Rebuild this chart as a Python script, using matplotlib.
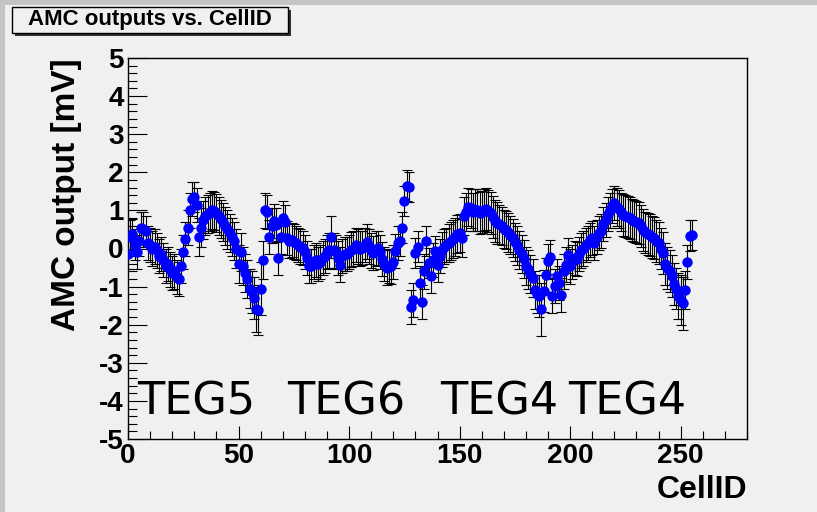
import matplotlib
matplotlib.use("Agg")
import matplotlib.pyplot as plt
from matplotlib.patches import Rectangle
from matplotlib.ticker import MultipleLocator
import numpy as np

# AMC output per cell (mV)
cell_id = list(range(256))
amc_mv = [
    -0.15, 0.30, 0.37, 0.10, -0.10, 0.20, 0.55, 0.50, 0.45, 0.15,
    0.10, 0.00, 0.05, -0.05, -0.20, -0.15, -0.30, -0.45, -0.40, -0.55,
    -0.65, -0.60, -0.75, -0.80, -0.45, -0.10, 0.25, 0.55, 1.00, 1.30,
    1.35, 1.15, 0.30, 0.55, 0.75, 0.85, 0.90, 0.95, 1.00, 0.98,
    0.92, 0.85, 0.78, 0.70, 0.60, 0.50, 0.40, 0.30, 0.20, 0.00,
    -0.40, -0.10, -0.45, -0.65, -0.80, -1.05, -1.15, -1.30, -1.60, -1.62,
    -1.05, -0.30, 1.00, 0.95, 0.30, 0.60, 0.72, 0.62, -0.25, 0.30,
    0.80, 0.70, 0.28, 0.20, 0.22, 0.18, 0.15, 0.10, 0.05, 0.02,
    -0.10, -0.25, -0.45, -0.45, -0.35, -0.30, -0.40, -0.35, -0.25, -0.20,
    -0.10, -0.05, 0.30, -0.05, -0.10, -0.25, -0.42, -0.20, -0.15, -0.15,
    -0.10, -0.03, 0.00, 0.10, 0.05, 0.00, 0.02, 0.10, 0.18, 0.05,
    -0.05, -0.12, 0.00, 0.02, -0.10, -0.28, -0.40, -0.50, -0.45, -0.47,
    -0.35, -0.07, 0.15, 0.20, 0.55, 1.25, 1.65, 1.62, -1.53, -1.35,
    -0.12, 0.05, -0.90, -1.40, -0.60, 0.20, -0.38, -0.72, -0.30, -0.07,
    -0.42, -0.20, -0.03, 0.05, 0.10, 0.15, 0.20, 0.25, 0.30, 0.37,
    0.40, 0.28, 0.85, 0.95, 1.10, 1.05, 0.95, 1.00, 1.02, 0.94,
    0.95, 1.00, 1.03, 0.98, 0.92, 0.82, 0.72, 0.68, 0.63, 0.58,
    0.52, 0.48, 0.42, 0.35, 0.28, 0.18, 0.08, -0.03, -0.15, -0.27,
    -0.45, -0.55, -0.68, -0.78, -1.10, -1.20, -1.25, -1.60, -1.12, -0.70,
    -0.33, -0.23, -1.25, -0.98, -0.73, -0.90, -1.22, -0.60, -0.42, -0.18,
    -0.47, -0.35, -0.25, -0.27, -0.15, -0.05, 0.00, 0.10, 0.15, 0.22,
    0.28, 0.15, 0.30, 0.40, 0.46, 0.65, 0.75, 0.90, 1.00, 1.12,
    1.20, 1.10, 1.03, 0.95, 0.88, 0.85, 0.82, 0.80, 0.75, 0.72,
    0.70, 0.68, 0.58, 0.48, 0.42, 0.38, 0.35, 0.30, 0.28, 0.20,
    0.15, 0.00, -0.12, -0.40, -0.50, -0.60, -0.73, -0.92, -1.05, -1.24,
    -1.35, -1.44, -1.08, -0.36, 0.34, 0.35,
]
amc_err = [
    0.40, 0.45, 0.40, 0.40, 0.45, 0.40, 0.40, 0.45, 0.40, 0.45,
    0.45, 0.45, 0.45, 0.45, 0.45, 0.45, 0.45, 0.45, 0.45, 0.45,
    0.45, 0.45, 0.45, 0.45, 0.45, 0.45, 0.45, 0.45, 0.45, 0.45,
    0.40, 0.45, 0.50, 0.50, 0.50, 0.50, 0.50, 0.50, 0.50, 0.50,
    0.50, 0.50, 0.50, 0.50, 0.50, 0.50, 0.50, 0.50, 0.50, 0.50,
    0.50, 0.50, 0.50, 0.50, 0.50, 0.50, 0.55, 0.55, 0.60, 0.65,
    0.70, 0.50, 0.45, 0.45, 0.45, 0.45, 0.45, 0.45, 0.45, 0.45,
    0.45, 0.45, 0.45, 0.45, 0.45, 0.45, 0.45, 0.45, 0.45, 0.45,
    0.45, 0.45, 0.45, 0.45, 0.45, 0.45, 0.45, 0.45, 0.45, 0.45,
    0.45, 0.45, 0.55, 0.45, 0.45, 0.45, 0.45, 0.45, 0.45, 0.45,
    0.45, 0.45, 0.45, 0.45, 0.45, 0.45, 0.45, 0.45, 0.45, 0.45,
    0.45, 0.45, 0.45, 0.45, 0.45, 0.45, 0.45, 0.45, 0.45, 0.45,
    0.45, 0.45, 0.45, 0.40, 0.40, 0.40, 0.40, 0.40, 0.45, 0.45,
    0.40, 0.40, 0.45, 0.45, 0.45, 0.40, 0.40, 0.45, 0.45, 0.40,
    0.45, 0.45, 0.45, 0.45, 0.45, 0.50, 0.50, 0.50, 0.50, 0.50,
    0.50, 0.50, 0.50, 0.50, 0.50, 0.50, 0.50, 0.55, 0.55, 0.55,
    0.55, 0.55, 0.55, 0.55, 0.55, 0.55, 0.55, 0.55, 0.50, 0.50,
    0.50, 0.50, 0.50, 0.50, 0.50, 0.50, 0.50, 0.50, 0.50, 0.50,
    0.50, 0.50, 0.50, 0.50, 0.50, 0.50, 0.55, 0.70, 0.55, 0.45,
    0.45, 0.45, 0.45, 0.45, 0.45, 0.45, 0.45, 0.45, 0.45, 0.45,
    0.45, 0.45, 0.45, 0.45, 0.45, 0.45, 0.45, 0.45, 0.45, 0.45,
    0.45, 0.45, 0.45, 0.45, 0.45, 0.45, 0.45, 0.45, 0.45, 0.45,
    0.45, 0.50, 0.50, 0.50, 0.55, 0.55, 0.55, 0.55, 0.55, 0.55,
    0.55, 0.55, 0.55, 0.55, 0.55, 0.55, 0.55, 0.55, 0.55, 0.55,
    0.55, 0.55, 0.55, 0.55, 0.55, 0.55, 0.55, 0.55, 0.55, 0.60,
    0.65, 0.70, 0.50, 0.45, 0.40, 0.40,
]

teg_labels = ["TEG5", "TEG6", "TEG4", "TEG4"]
teg_x = [4, 72, 141, 199]

bg = "#f0f0f0"
plt.rcParams["font.family"] = ["Liberation Sans", "DejaVu Sans"]
plt.rcParams["axes.unicode_minus"] = False

fig = plt.figure(figsize=(8.17, 5.12), dpi=100, facecolor=bg)
ax = fig.add_axes([128 / 817, 1 - 439 / 512, (747 - 128) / 817, (439 - 58) / 512])
ax.set_facecolor(bg)

ax.errorbar(cell_id, amc_mv, yerr=amc_err, fmt="none", ecolor="black",
            elinewidth=0.8, capsize=3.5, capthick=0.8, zorder=2)
ax.plot(cell_id, amc_mv, "o", color="#0000ff", markersize=7.5, markeredgewidth=0, zorder=3)

ax.set_xlim(0, 280)
ax.set_ylim(-5, 5)
ax.xaxis.set_major_locator(MultipleLocator(50))
ax.xaxis.set_minor_locator(MultipleLocator(10))
ax.yaxis.set_major_locator(MultipleLocator(1))
ax.yaxis.set_minor_locator(MultipleLocator(0.2))
ax.tick_params(axis="x", which="major", direction="in", length=9.5, width=0.8,
               labelsize=20, pad=3, top=False)
ax.tick_params(axis="x", which="minor", direction="in", length=5.5, width=0.8, top=False)
ax.tick_params(axis="y", which="major", direction="in", length=13.5, width=0.8,
               labelsize=20, pad=3, right=False)
ax.tick_params(axis="y", which="minor", direction="in", length=6.5, width=0.8, right=False)
for lab in ax.get_xticklabels() + ax.get_yticklabels():
    lab.set_fontweight("bold")
for s in ax.spines.values():
    s.set_linewidth(1.0)

ax.set_ylabel("AMC output [mV]", fontsize=24, fontweight="bold", loc="top", labelpad=12)
ax.set_xlabel("CellID", fontsize=23, fontweight="bold", loc="right", labelpad=4)

for lbl, xp in zip(teg_labels, teg_x):
    ax.text(xp, -4.37, lbl, fontsize=32, ha="left", va="baseline",
            family=["DejaVu Sans"], zorder=4)

# pad border strips and title box
fig.patches.append(Rectangle((0, 1 - 5 / 512), 1, 5 / 512, transform=fig.transFigure,
                             facecolor="#c4c4c4", edgecolor="none"))
fig.patches.append(Rectangle((0, 0), 5 / 817, 1, transform=fig.transFigure,
                             facecolor="#c4c4c4", edgecolor="none"))
fig.patches.append(Rectangle((15 / 817, 1 - 36 / 512), 276 / 817, 26 / 512,
                             transform=fig.transFigure, facecolor="#303030", edgecolor="none"))
fig.patches.append(Rectangle((12 / 817, 1 - 33 / 512), 276 / 817, 26 / 512,
                             transform=fig.transFigure, facecolor=bg, edgecolor="black",
                             linewidth=1.0))
fig.text(150 / 817, 1 - 20 / 512, "AMC outputs vs. CellID", fontsize=16,
         fontweight="bold", ha="center", va="center")

fig.savefig("out.png", dpi=100, facecolor=bg)
